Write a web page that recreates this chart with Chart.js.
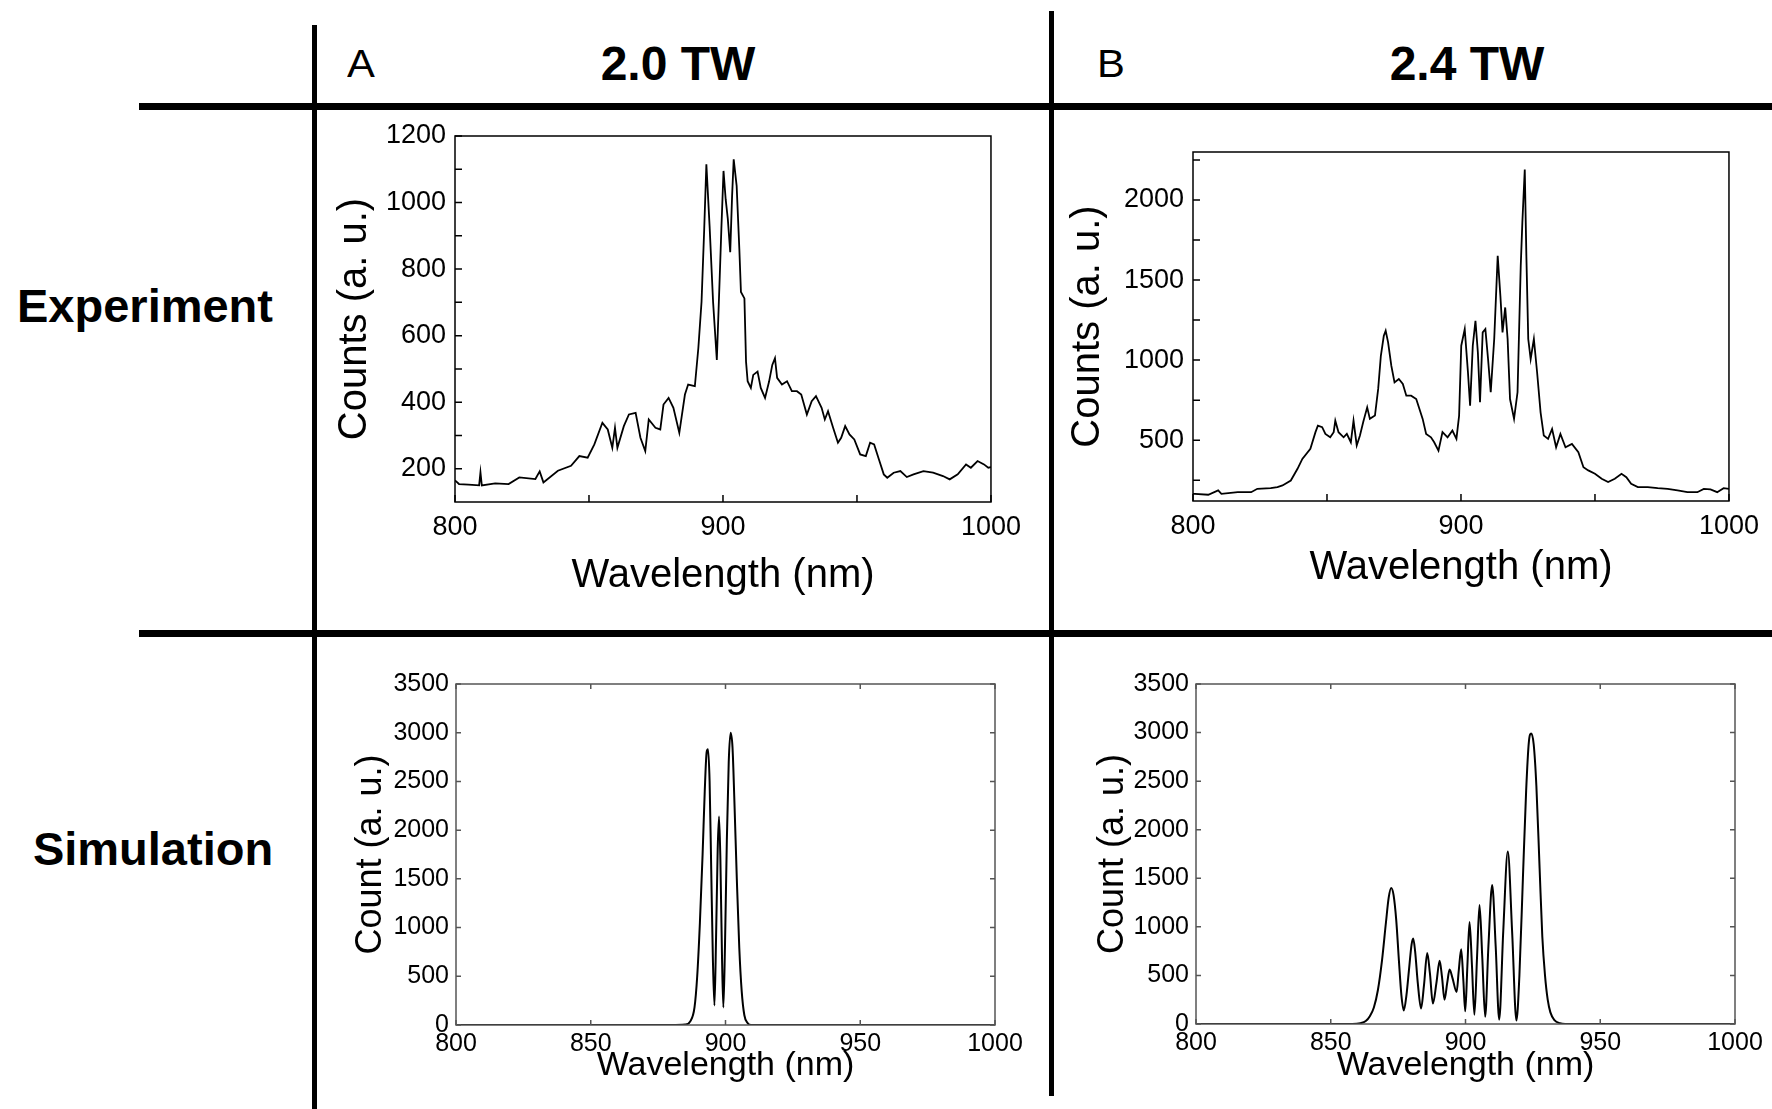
<!DOCTYPE html>
<html>
<head>
<meta charset="utf-8">
<script src="https://cdn.jsdelivr.net/npm/chart.js@4/dist/chart.umd.min.js"></script>
<style>
  body { margin: 0; background: #fff; }
  #fig { position: relative; width: 1772px; height: 1109px; overflow: hidden; font-family: "Liberation Sans", Arial, sans-serif; color: #000; }
  canvas { position: absolute; }
  .bar { position: absolute; background: #000; }
  .lbl { position: absolute; white-space: nowrap; line-height: 1; }
  .bold { font-weight: bold; }
</style>
</head>
<body>
<div id="fig">
  <div class="bar" style="left:312px;top:25px;width:5px;height:1084px"></div>
  <div class="bar" style="left:1049px;top:11px;width:5px;height:1085px"></div>
  <div class="bar" style="left:139px;top:103px;width:1633px;height:7px"></div>
  <div class="bar" style="left:139px;top:630px;width:1633px;height:7px"></div>

  <div class="lbl" style="left:347px;top:45px;font-size:38px;transform:scaleX(1.1);transform-origin:left">A</div>
  <div class="lbl bold" style="left:678px;top:64px;font-size:48px;transform:translate(-50%,-50%)">2.0 TW</div>
  <div class="lbl" style="left:1097px;top:45px;font-size:38px;transform:scaleX(1.1);transform-origin:left">B</div>
  <div class="lbl bold" style="left:1467px;top:64px;font-size:48px;transform:translate(-50%,-50%)">2.4 TW</div>
  <div class="lbl bold" style="left:145px;top:305px;font-size:47px;transform:translate(-50%,-50%)">Experiment</div>
  <div class="lbl bold" style="left:153px;top:848px;font-size:47px;transform:translate(-50%,-50%)">Simulation</div>

  <canvas id="expA" width="710" height="510" style="left:320px;top:110px"></canvas>
  <canvas id="expB" width="710" height="510" style="left:1058px;top:110px"></canvas>
  <canvas id="simA" width="710" height="449" style="left:320px;top:660px"></canvas>
  <canvas id="simB" width="710" height="449" style="left:1060px;top:660px"></canvas>
</div>
<script>
// Deney A (2.0 TW) - okunan değerler
const expA_nm = [800, 801.5, 805, 809, 809.5, 810, 815, 820, 824, 830, 831.6, 833, 838.4, 843.3, 846.4, 849.5, 852, 855, 857, 858.7, 859.7, 860.6, 863, 864.9, 867.4, 869.2, 871, 872.3, 874.8, 876.6, 877.8, 879.7, 881.5, 883.7, 885.8, 887, 889.5, 890.8, 892, 893, 893.8, 895, 896.3, 897.7, 898.8, 899.4, 900.2, 901, 901.8, 902.7, 903.4, 904, 905.1, 906.1, 906.7, 908, 908.6, 909.2, 910.4, 911.3, 912.9, 914.1, 915.7, 917.2, 918.4, 919.4, 920.2, 922, 923.9, 925.7, 927.6, 929.2, 931.3, 933.1, 934.7, 936.8, 938, 939.2, 941.1, 942.9, 944.1, 945.6, 947.2, 949, 951.2, 953.3, 954.9, 956.4, 958.2, 960, 961.3, 963.7, 966.2, 968.6, 971.1, 974.8, 978.4, 982.1, 984.6, 987.6, 990.7, 992.5, 995, 997.4, 999, 1000];
const expA_counts = [165, 154, 152, 150, 189, 150, 156, 154, 174, 169, 192, 159, 194, 209, 238, 233, 273, 338, 318, 263, 323, 263, 328, 363, 368, 293, 253, 348, 323, 318, 393, 413, 383, 308, 423, 453, 448, 562, 702, 921, 1115, 930, 702, 527, 780, 921, 1095, 1010, 951, 851, 1020, 1130, 1050, 861, 731, 712, 522, 463, 443, 482, 492, 443, 413, 462, 512, 532, 473, 453, 463, 433, 433, 423, 363, 403, 418, 383, 348, 373, 323, 278, 293, 328, 303, 288, 243, 238, 278, 273, 228, 183, 173, 188, 193, 175, 183, 193, 188, 178, 168, 183, 213, 203, 223, 213, 203, 205];

// Deney B (2.4 TW)
const expB_nm = [800, 800.7, 805.7, 809.4, 810.6, 816.7, 821.7, 824, 829, 831.5, 833.4, 836.5, 839, 840.8, 843.8, 845.7, 846.6, 848.2, 849.4, 851.2, 852.5, 853.1, 854.3, 856.2, 857.4, 858.9, 859.9, 861.1, 862.3, 863.5, 865, 866, 867.9, 869.1, 870.1, 871.2, 871.9, 872.8, 874, 875.2, 876.8, 878.3, 879.6, 881.4, 883.3, 884.5, 885.7, 887, 888.8, 890, 891.6, 893.1, 895, 896.8, 898.3, 899.3, 900.1, 901.4, 902.6, 903.4, 904.4, 905.4, 906.3, 907.1, 908.1, 909.1, 910.1, 911.1, 912.4, 913.7, 914.7, 915.5, 916.5, 917.4, 918.3, 919.8, 921.1, 922.3, 922.9, 923.8, 924.4, 925.1, 926, 927.2, 928.4, 929.7, 930.9, 932.5, 934, 935.5, 937.1, 939, 941.4, 943.8, 945.7, 947.5, 950, 952.5, 954.9, 957.4, 959.9, 961.7, 963.5, 966, 969.7, 973.4, 977.1, 980.8, 984.5, 988.2, 990.6, 993.1, 995.6, 998, 1000];
const expB_counts = [165, 165, 159, 186, 165, 175, 175, 196, 200, 207, 217, 248, 321, 383, 446, 550, 591, 581, 539, 518, 550, 622, 550, 518, 539, 487, 622, 467, 529, 612, 705, 633, 654, 820, 1027, 1152, 1183, 1111, 965, 861, 882, 851, 778, 778, 757, 695, 633, 539, 518, 487, 435, 550, 518, 560, 508, 653, 1090, 1194, 924, 716, 1090, 1246, 1048, 737, 1173, 1194, 1007, 799, 1132, 1651, 1402, 1173, 1329, 1132, 757, 633, 799, 1589, 1859, 2191, 1651, 1132, 1007, 1132, 924, 674, 529, 508, 570, 456, 539, 456, 477, 425, 331, 311, 290, 259, 238, 259, 290, 269, 228, 207, 207, 200, 196, 186, 175, 175, 196, 192, 175, 200, 196];

// Simülasyon A
const simA_nm = [800, 880, 885, 887, 888.5, 889.5, 890.5, 891.5, 892.3, 893, 893.5, 894.1, 894.7, 895.3, 895.9, 896.5, 897.1, 897.6, 898.1, 898.7, 899.2, 899.8, 900.5, 901.2, 901.9, 902.6, 903.3, 904.2, 905.1, 906, 907, 908.2, 909.5, 920, 1000];
const simA_counts = [0, 0, 5, 40, 180, 500, 1050, 1750, 2400, 2800, 2830, 2500, 1600, 700, 200, 900, 1800, 2140, 1700, 700, 180, 800, 1900, 2700, 3000, 2850, 2300, 1500, 800, 350, 100, 20, 0, 0, 0];

// Simülasyon B
const simB_nm = [800, 858, 861, 863, 864.5, 866, 867.5, 869, 870.5, 871.5, 872.4, 873.3, 874.3, 875.3, 876.2, 877.1, 878.1, 879, 880, 880.6, 881.3, 882.3, 883.5, 884.6, 885.8, 886.8, 887.9, 889.2, 890.4, 891.3, 892.2, 893.2, 894.1, 895.2, 896.7, 897.5, 898.4, 899.2, 899.9, 900.7, 901.5, 902.4, 903.3, 904.3, 905.2, 906.2, 907.3, 908.5, 909.9, 911.2, 912.5, 914, 915.7, 917.3, 918.9, 920, 921.3, 922.5, 923.5, 924.4, 925.3, 926.3, 927.5, 928.5, 929.5, 930.5, 931.5, 933, 935, 937, 1000];
const simB_counts = [0, 0, 8, 30, 80, 170, 350, 650, 1050, 1300, 1400, 1330, 1070, 650, 300, 140, 300, 550, 820, 880, 750, 420, 160, 400, 730, 520, 210, 420, 650, 480, 250, 420, 560, 470, 330, 550, 770, 450, 130, 600, 1050, 600, 95, 700, 1225, 700, 75, 800, 1430, 800, 45, 950, 1775, 950, 35, 500, 1500, 2400, 2900, 2990, 2880, 2450, 1600, 900, 500, 250, 120, 40, 8, 0, 0];

// Eksen işaretleri
const wlTicksExp = [800, 850, 900, 950, 1000];
const wlLabelsExp = [800, 900, 1000];
const wlTicksSim = [800, 850, 900, 950, 1000];
const expA_yTicks = [200, 300, 400, 500, 600, 700, 800, 900, 1000, 1100, 1200];
const expA_yLabels = [200, 400, 600, 800, 1000, 1200];
const expB_yTicks = [250, 500, 750, 1000, 1250, 1500, 1750, 2000, 2250];
const expB_yLabels = [500, 1000, 1500, 2000];
const simY_ticks = [0, 500, 1000, 1500, 2000, 2500, 3000, 3500];

const FONT = '"Liberation Sans", Arial, sans-serif';

// Çerçeve ve içe dönük çentikler
const framePlugin = {
    id: 'frame',
    afterDatasetsDraw(chart, args, opts) {
        const {ctx, chartArea: a, scales: {x, y}} = chart;
        ctx.save();
        ctx.strokeStyle = opts.color;
        ctx.lineWidth = opts.width;
        ctx.strokeRect(a.left, a.top, a.right - a.left, a.bottom - a.top);
        ctx.beginPath();
        x.ticks.forEach(t => {
            const px = x.getPixelForValue(t.value);
            ctx.moveTo(px, a.bottom); ctx.lineTo(px, a.bottom - opts.tick);
            if (opts.allSides) { ctx.moveTo(px, a.top); ctx.lineTo(px, a.top + opts.tick); }
        });
        y.ticks.forEach(t => {
            const py = y.getPixelForValue(t.value);
            ctx.moveTo(a.left, py); ctx.lineTo(a.left + opts.tick, py);
            if (opts.allSides) { ctx.moveTo(a.right, py); ctx.lineTo(a.right - opts.tick, py); }
        });
        ctx.stroke();
        ctx.restore();
    }
};

function spectrumChart(id, nm, counts, o) {
    return new Chart(document.getElementById(id), {
        type: 'line',
        data: {
            datasets: [{
                data: nm.map((v, i) => ({x: v, y: counts[i]})),
                borderColor: '#000',
                borderWidth: o.lineWidth,
                pointRadius: 0,
                tension: o.smooth ? 0.4 : 0,
                cubicInterpolationMode: o.smooth ? 'monotone' : 'default'
            }]
        },
        options: {
            responsive: false,
            animation: false,
            layout: { padding: o.padding },
            plugins: {
                legend: { display: false },
                tooltip: { enabled: false },
                frame: o.frame
            },
            scales: {
                x: {
                    type: 'linear', min: 800, max: 1000,
                    afterBuildTicks: s => { s.ticks = o.xTicks.map(v => ({value: v})); },
                    afterFit: s => { s.height = o.xHeight; },
                    grid: { display: false, drawTicks: false },
                    border: { display: false },
                    ticks: {
                        autoSkip: false, maxRotation: 0, padding: o.xTickPad, color: '#000',
                        font: { family: FONT, size: o.tickSize },
                        callback: v => o.xLabels.includes(v) ? String(v) : ''
                    },
                    title: {
                        display: true, text: 'Wavelength (nm)', color: '#000',
                        font: { family: FONT, size: o.xTitle.size },
                        padding: { top: 0, bottom: o.xTitle.pad }
                    }
                },
                y: {
                    min: o.yMin, max: o.yMax,
                    afterBuildTicks: s => { s.ticks = o.yTicks.map(v => ({value: v})); },
                    afterFit: s => { s.width = o.yWidth; },
                    grid: { display: false, drawTicks: false },
                    border: { display: false },
                    ticks: {
                        padding: o.yTickPad, color: '#000',
                        font: { family: FONT, size: o.tickSize },
                        callback: v => o.yLabels.includes(v) ? String(v) : ''
                    },
                    title: {
                        display: true, text: o.yTitle.text, color: '#000',
                        font: { family: FONT, size: o.yTitle.size },
                        padding: { top: o.yTitle.pad, bottom: 0 }
                    }
                }
            }
        },
        plugins: [framePlugin]
    });
}

spectrumChart('expA', expA_nm, expA_counts, {
    lineWidth: 1.8, smooth: false,
    padding: { top: 26, right: 35, left: 0, bottom: 0 },
    xTicks: wlTicksExp, xLabels: wlLabelsExp, xHeight: 118, xTickPad: 9,
    yMin: 100, yMax: 1200, yTicks: expA_yTicks, yLabels: expA_yLabels, yWidth: 135, yTickPad: 9,
    tickSize: 27,
    xTitle: { size: 40, pad: 20 },
    yTitle: { text: 'Counts (a. u.)', size: 40, pad: 11 },
    frame: { color: '#000', width: 1.5, tick: 7, allSides: false }
});

spectrumChart('expB', expB_nm, expB_counts, {
    lineWidth: 1.8, smooth: false,
    padding: { top: 42, right: 36, left: 0, bottom: 0 },
    xTicks: wlTicksExp, xLabels: wlLabelsExp, xHeight: 119, xTickPad: 9,
    yMin: 120, yMax: 2300, yTicks: expB_yTicks, yLabels: expB_yLabels, yWidth: 135, yTickPad: 9,
    tickSize: 27,
    xTitle: { size: 40, pad: 28 },
    yTitle: { text: 'Counts (a. u.)', size: 40, pad: 6 },
    frame: { color: '#000', width: 1.5, tick: 7, allSides: false }
});

spectrumChart('simA', simA_nm, simA_counts, {
    lineWidth: 2, smooth: true,
    padding: { top: 24, right: 35, left: 0, bottom: 0 },
    xTicks: wlTicksSim, xLabels: wlTicksSim, xHeight: 84, xTickPad: 4,
    yMin: 0, yMax: 3500, yTicks: simY_ticks, yLabels: simY_ticks, yWidth: 136, yTickPad: 7,
    tickSize: 25,
    xTitle: { size: 34, pad: 23 },
    yTitle: { text: 'Count (a. u.)', size: 36, pad: 29 },
    frame: { color: '#555', width: 1.5, tick: 5, allSides: true }
});

spectrumChart('simB', simB_nm, simB_counts, {
    lineWidth: 2, smooth: true,
    padding: { top: 24, right: 35, left: 0, bottom: 0 },
    xTicks: wlTicksSim, xLabels: wlTicksSim, xHeight: 85, xTickPad: 4,
    yMin: 0, yMax: 3500, yTicks: simY_ticks, yLabels: simY_ticks, yWidth: 136, yTickPad: 7,
    tickSize: 25,
    xTitle: { size: 34, pad: 23 },
    yTitle: { text: 'Count (a. u.)', size: 36, pad: 31 },
    frame: { color: '#555', width: 1.5, tick: 5, allSides: true }
});
</script>
</body>
</html>
